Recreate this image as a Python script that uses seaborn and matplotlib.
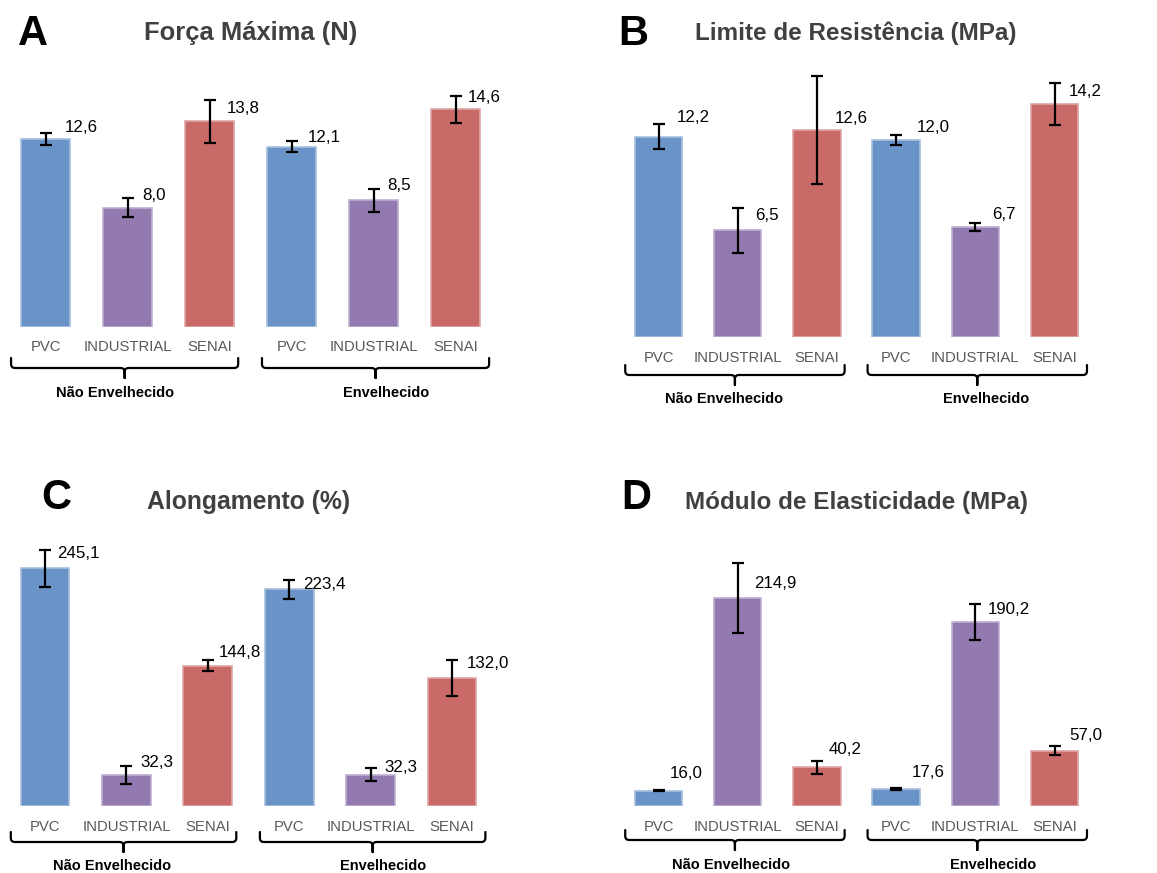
import matplotlib
matplotlib.use("Agg")
import matplotlib.pyplot as plt
import matplotlib.transforms as mtransforms
from matplotlib.path import Path
from matplotlib.patches import PathPatch
import matplotlib.colors as mcolors
import seaborn as sns
import pandas as pd

# ---------------- data ----------------
materials = ["PVC", "INDUSTRIAL", "SENAI"]
conditions = ["Não Envelhecido", "Envelhecido"]

forca = [12.6, 8.0, 13.8, 12.1, 8.5, 14.6]
forca_err = [0.40, 0.65, 1.45, 0.37, 0.77, 0.90]

limite = [12.2, 6.5, 12.6, 12.0, 6.7, 14.2]
limite_err = [0.76, 1.37, 3.30, 0.30, 0.24, 1.28]

alongamento = [245.1, 32.3, 144.8, 223.4, 32.3, 132.0]
alongamento_err = [19.0, 9.3, 5.7, 9.8, 6.7, 18.6]

modulo = [16.0, 214.9, 40.2, 17.6, 190.2, 57.0]
modulo_err = [0.8, 36.0, 6.7, 0.6, 18.6, 4.7]

titles = ["Força Máxima (N)", "Limite de Resistência (MPa)",
          "Alongamento (%)", "Módulo de Elasticidade (MPa)"]
letters = ["A", "B", "C", "D"]

palette = {"PVC": "#6A94C8", "INDUSTRIAL": "#9279B0", "SENAI": "#C96A69"}

# ---------------- layout (pixels) ----------------
W, H = 1157, 873
plt.rcParams["font.family"] = ["Liberation Sans", "DejaVu Sans"]

fig = plt.figure(figsize=(W / 100, H / 100), dpi=100)
pix = mtransforms.Affine2D().scale(1 / W, 1 / H) + fig.transFigure
PT = 0.72  # points per pixel

panels = [
    dict(vals=forca, errs=forca_err, c0=45.5, sp=82.0, base=327, scale=14.9,
         tick=20, brace=(31, 41, 51), glab=66, gx=(0.85, 4.15),
         title=(250.5, 33), letter=(33, 34), tsize=18.4,
         lab=[(19.5, 12), (14.5, 12), (17.5, 13), (16.5, 9), (13.5, 15), (12.5, 12)]),
    dict(vals=limite, errs=limite_err, c0=658.5, sp=79.2, base=337, scale=16.4,
         tick=21, brace=(28, 38, 48), glab=62, gx=(0.83, 4.14),
         title=(856, 33), letter=(633, 34), tsize=17.5,
         lab=[(18.5, 19), (17, 15), (18, 12), (21, 13), (16.5, 13), (14.5, 13)]),
    dict(vals=alongamento, errs=alongamento_err, c0=45.0, sp=81.4, base=806, scale=0.97,
         tick=21, brace=(26, 36, 46), glab=60, gx=(0.83, 4.15),
         title=(248.5, 502), letter=(56.5, 498), tsize=17.8,
         lab=[(12, 15), (14.5, 12), (10.5, 13), (14, 5), (14, 7), (15, 14)]),
    dict(vals=modulo, errs=modulo_err, c0=658.5, sp=79.2, base=806, scale=0.968,
         tick=21, brace=(24, 34, 44), glab=59, gx=(0.92, 4.23),
         title=(856.5, 502), letter=(636.5, 498), tsize=17.5,
         lab=[(11, 17), (16, 14), (12, 18), (16, 16), (12, 12), (14.5, 15)]),
]

brace_ranges = [(-0.42, 2.35), (2.64, 5.41)]

keys = [f"{c}|{m}" for c in conditions for m in materials]
mats = [m for c in conditions for m in materials]


def lighten(c, f):
    r, g, b = mcolors.to_rgb(c)
    return (r + (1 - r) * f, g + (1 - g) * f, b + (1 - b) * f)


for k, p in enumerate(panels):
    axh = 290
    left = p["c0"] - 0.5 * p["sp"]
    width = 6 * p["sp"]
    ax = fig.add_axes([left / W, (H - p["base"]) / H, width / W, axh / H])
    df = pd.DataFrame({"key": keys, "material": mats, "valor": p["vals"]})
    sns.barplot(data=df, x="key", y="valor", hue="material", order=keys,
                hue_order=materials, palette=palette, dodge=False, width=0.6,
                saturation=1, legend=False, ax=ax, errorbar=None)
    for patch in ax.patches:
        patch.set_edgecolor(lighten(patch.get_facecolor(), 0.4))
        patch.set_linewidth(1.2)
    ax.errorbar(range(6), p["vals"], yerr=p["errs"], fmt="none", ecolor="black",
                elinewidth=1.6, capsize=4.5, capthick=1.6, clip_on=False, zorder=5)
    ax.set_xlim(-0.5, 5.5)
    ax.set_ylim(0, axh / p["scale"])
    ax.set_axis_off()

    # value labels
    for i, (v, (dx, dy)) in enumerate(zip(p["vals"], p["lab"])):
        ax.annotate(f"{v:.1f}".replace(".", ","), xy=(i, v),
                    xytext=(dx * PT, dy * PT), textcoords="offset points",
                    ha="left", va="center", fontsize=12.2, color="black",
                    annotation_clip=False)
    # category labels
    for i, m in enumerate(mats):
        ax.annotate(m, xy=(i, 0), xytext=(0, -p["tick"] * PT), textcoords="offset points",
                    ha="center", va="center", fontsize=10.7, color="#595959",
                    annotation_clip=False)
    # braces
    bt = mtransforms.blended_transform_factory(ax.transData, pix)
    yT = H - (p["base"] + p["brace"][0])
    yL = H - (p["base"] + p["brace"][1])
    yB = H - (p["base"] + p["brace"][2])
    for (x0, x1) in brace_ranges:
        xm = 0.5 * (x0 + x1)
        r = 4.0 / p["sp"]
        verts = [(x0, yT), (x0, yL + 4), (x0, yL), (x0 + r, yL),
                 (xm - r, yL), (xm, yL), (xm, yL - 4), (xm, yB),
                 (xm, yL - 4), (xm, yL), (xm + r, yL),
                 (x1 - r, yL), (x1, yL), (x1, yL + 4), (x1, yT)]
        codes = [Path.MOVETO, Path.LINETO, Path.CURVE3, Path.CURVE3,
                 Path.LINETO, Path.CURVE3, Path.CURVE3, Path.LINETO,
                 Path.LINETO, Path.CURVE3, Path.CURVE3,
                 Path.LINETO, Path.CURVE3, Path.CURVE3, Path.LINETO]
        ax.add_patch(PathPatch(Path(verts, codes), transform=bt, fill=False,
                               edgecolor="black", linewidth=1.6, clip_on=False,
                               capstyle="round", joinstyle="round"))
    # group labels
    for gx, cond in zip(p["gx"], conditions):
        ax.annotate(cond, xy=(gx, 0), xytext=(0, -p["glab"] * PT),
                    textcoords="offset points", ha="center", va="center",
                    fontsize=10.5, fontweight="bold", color="black",
                    annotation_clip=False)
    # title and letter
    tx, ty = p["title"]
    fig.text(tx, H - ty, titles[k], transform=pix, ha="center", va="center",
             fontsize=p["tsize"], fontweight="bold", color="#404040")
    lx, ly = p["letter"]
    fig.text(lx, H - ly, letters[k], transform=pix, ha="center", va="center",
             fontsize=30, fontweight="bold", color="black")

fig.savefig("out.png", dpi=100)
